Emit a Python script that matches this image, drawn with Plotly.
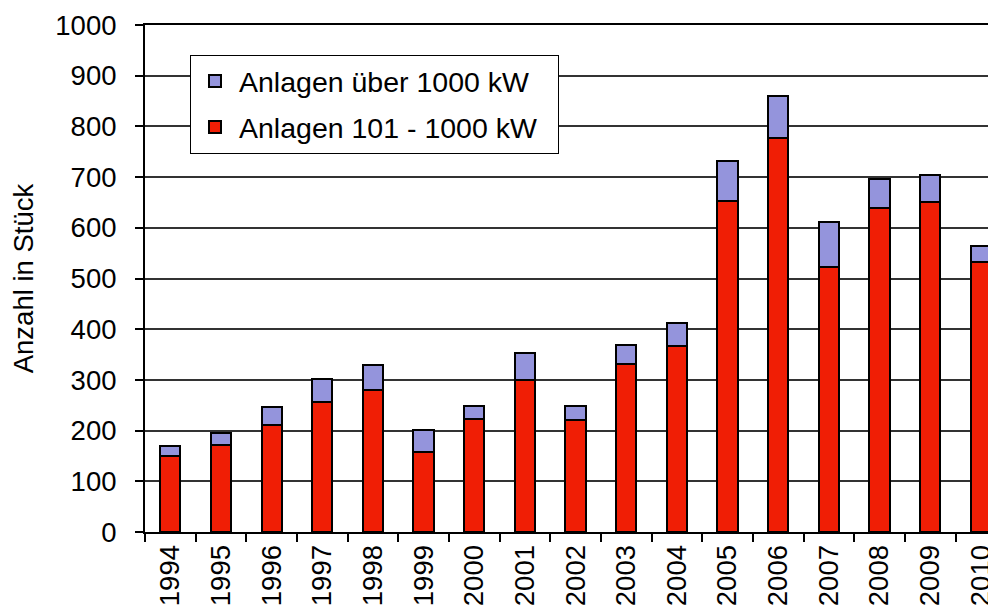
import plotly.graph_objects as go

years = ["1994", "1995", "1996", "1997", "1998", "1999", "2000", "2001", "2002",
         "2003", "2004", "2005", "2006", "2007", "2008", "2009", "2010"]
anlagen_101_1000 = [150, 172, 212, 256, 280, 158, 223, 300, 220, 332, 367, 653, 777, 523, 640, 651, 532]
anlagen_ueber_1000 = [20, 23, 35, 45, 50, 44, 26, 54, 29, 37, 46, 79, 83, 88, 57, 53, 32]

y_ticks = [0, 100, 200, 300, 400, 500, 600, 700, 800, 900, 1000]

RED = "#F01E05"
BLUE = "#9494DC"
FONT = "Liberation Sans, Arial, sans-serif"
PAD = "\u00a0\u00a0"

fig = go.Figure()
fig.add_trace(go.Bar(
    x=years, y=anlagen_101_1000, name="Anlagen 101 - 1000 kW" + PAD,
    marker=dict(color=RED, line=dict(color="black", width=2)),
    legendgroup="red", legendrank=2,
))
fig.add_trace(go.Bar(
    x=years, y=anlagen_ueber_1000, name="Anlagen über 1000 kW" + PAD,
    marker=dict(color=BLUE, line=dict(color="black", width=2)),
    legendgroup="blue", legendrank=1,
))

fig.update_layout(
    width=988, height=602,
    barmode="stack", bargap=0.6,
    plot_bgcolor="white", paper_bgcolor="white",
    margin=dict(l=137, r=0, t=17, b=78),
    font=dict(family=FONT, size=27, color="black"),
    legend=dict(
        x=0.053, y=0.941, xanchor="left", yanchor="top",
        bgcolor="white", bordercolor="black", borderwidth=1,
        font=dict(family=FONT, size=28.5, color="black"),
        traceorder="grouped", tracegroupgap=6, itemwidth=38,
    ),
    showlegend=True,
)
fig.update_xaxes(
    type="category", range=[-0.5, 16.26],
    tickangle=-90, tickson="boundaries",
    ticks="outside", ticklen=8, tickwidth=1.5, tickcolor="black",
    showline=True, linecolor="black", linewidth=2, mirror=True,
    showgrid=False, tickfont=dict(size=27.5),
)
fig.update_yaxes(
    range=[0, 1000], tickvals=y_ticks,
    ticks="outside", ticklen=8, tickwidth=1.5, tickcolor="black",
    showline=True, linecolor="black", linewidth=2,
    showgrid=True, gridcolor="#333333", gridwidth=1.5,
    zeroline=False, tickfont=dict(size=27.5), ticklabelstandoff=13,
    title=dict(text="Anzahl in Stück", font=dict(size=27.5), standoff=22),
)

fig.write_html("out.html")
